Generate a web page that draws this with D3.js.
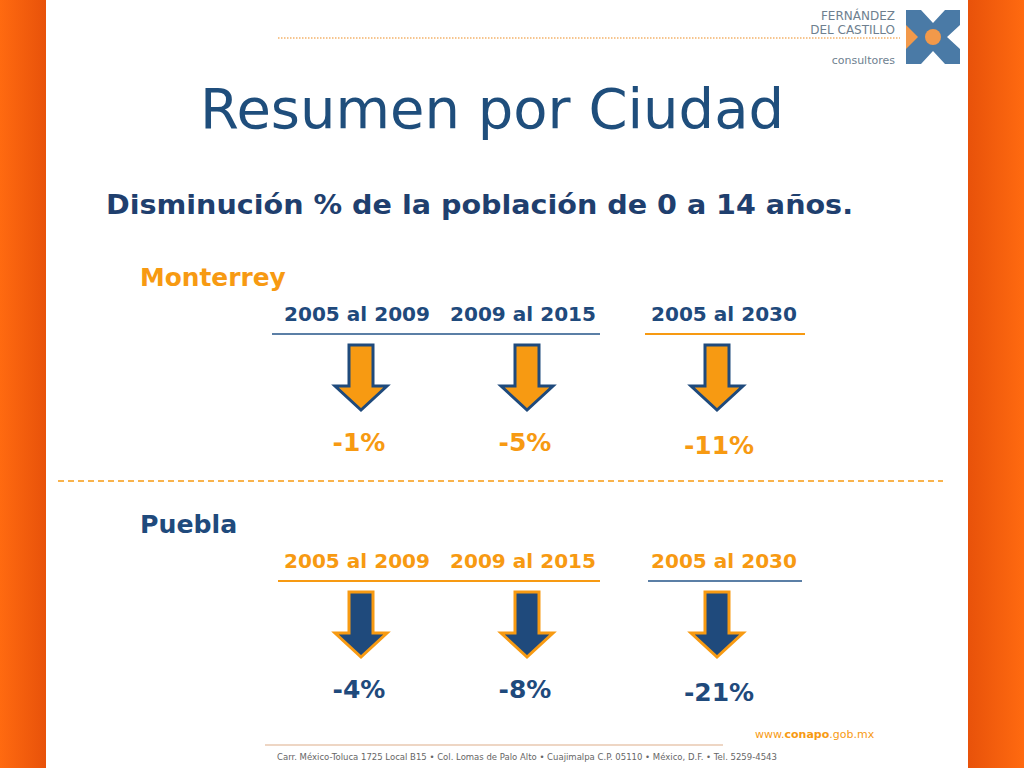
<!DOCTYPE html>
<html><head><meta charset="utf-8">
<script src="https://cdn.jsdelivr.net/npm/d3@7"></script>
<style>body{margin:0;overflow:hidden}text{font-family:"DejaVu Sans",Verdana,sans-serif}</style>
</head><body>
<script>
// data
const periods = ["2005 al 2009", "2009 al 2015", "2005 al 2030"];
const monterrey = [-1, -5, -11];
const puebla = [-4, -8, -21];

const W = 1024, H = 768;
const orange = "#f79a12", navy = "#1f4a7c", slate = "#5b7fa6";
const svg = d3.select("body").append("svg").attr("width", W).attr("height", H);

const defs = svg.append("defs");
const g1 = defs.append("linearGradient").attr("id", "lside");
g1.append("stop").attr("offset", 0).attr("stop-color", "#ff6a10");
g1.append("stop").attr("offset", 1).attr("stop-color", "#e8520a");
const g2 = defs.append("linearGradient").attr("id", "rside");
g2.append("stop").attr("offset", 0).attr("stop-color", "#e8520a");
g2.append("stop").attr("offset", 1).attr("stop-color", "#ff6a10");

svg.append("rect").attr("width", W).attr("height", H).attr("fill", "#fff");
svg.append("rect").attr("x", 0).attr("width", 46).attr("height", H).attr("fill", "url(#lside)");
svg.append("rect").attr("x", 968).attr("width", 56).attr("height", H).attr("fill", "url(#rside)");

// logo
svg.append("line").attr("x1", 278).attr("x2", 900).attr("y1", 38).attr("y2", 38)
  .attr("stroke", "#f4b36a").attr("stroke-width", 1.5).attr("stroke-dasharray", "1.5,1.5");
svg.append("text").attr("x", 895).attr("y", 20).attr("text-anchor", "end").attr("font-size", 12).attr("fill", "#6e7f8f").text("FERNÁNDEZ");
svg.append("text").attr("x", 895).attr("y", 34).attr("text-anchor", "end").attr("font-size", 12).attr("fill", "#6e7f8f").text("DEL CASTILLO");
svg.append("text").attr("x", 895).attr("y", 64).attr("text-anchor", "end").attr("font-size", 11).attr("fill", "#6e7f8f").text("consultores");
const lg = svg.append("g").attr("transform", "translate(933,37)");
lg.append("rect").attr("x", -27).attr("y", -27).attr("width", 54).attr("height", 54).attr("fill", "#4a7aa6");
lg.append("path").attr("d", "M-12,-27L12,-27L0,-14Z M-12,27L12,27L0,14Z M27,-12L27,12L14,0Z").attr("fill", "#fff");
lg.append("path").attr("d", "M-27,-12L-15,0L-27,12Z").attr("fill", "#f2994a");
lg.append("circle").attr("r", 8).attr("fill", "#f2994a");

// titles
svg.append("text").attr("x", 492).attr("y", 128).attr("text-anchor", "middle").attr("font-size", 56)
  .attr("font-family", "Open Sans, sans-serif").attr("fill", "#1f4e7c").text("Resumen por Ciudad");
svg.append("text").attr("x", 106).attr("y", 214).attr("font-size", 26).attr("font-weight", "bold")
  .attr("textLength", 747).attr("lengthAdjust", "spacingAndGlyphs")
  .attr("fill", "#1f3f6e").text("Disminución % de la población de 0 a 14 años.");

const x = d3.scaleOrdinal().domain(periods).range([357, 523, 724]);

function section(name, vals, top, nameColor, headColor, fill, border, valColor, lines) {
  svg.append("text").attr("x", 140).attr("y", top).attr("font-size", 24).attr("font-weight", "bold")
    .attr("textLength", name.length * 16.2).attr("lengthAdjust", "spacingAndGlyphs")
    .attr("fill", nameColor).text(name);
  const hy = top + 35;
  svg.selectAll(null).data(periods).join("text")
    .attr("x", d => x(d)).attr("y", hy).attr("text-anchor", "middle").attr("font-size", 19.5)
    .attr("textLength", 146).attr("lengthAdjust", "spacingAndGlyphs")
    .attr("font-weight", "bold").attr("fill", headColor).text(d => d);
  lines.forEach(l => svg.append("line").attr("x1", l[0]).attr("x2", l[1]).attr("y1", hy + 13).attr("y2", hy + 13)
    .attr("stroke", l[2]).attr("stroke-width", 2));
  const ay = hy + 24;
  svg.selectAll(null).data(vals).join("path")
    .attr("transform", (d, i) => `translate(${x(periods[i]) + (i === 2 ? -7 : 4)},${ay})`)
    .attr("d", "M-12,0L12,0L12,41L26,41L0,65L-26,41L-12,41Z")
    .attr("fill", fill).attr("stroke", border).attr("stroke-width", 3).attr("stroke-linejoin", "miter");
  svg.selectAll(null).data(vals).join("text")
    .attr("x", (d, i) => x(periods[i]) + (i === 2 ? -5 : 2)).attr("y", (d, i) => ay + 106 + (i === 2 ? 3 : 0))
    .attr("text-anchor", "middle").attr("font-size", 25).attr("font-weight", "bold").attr("fill", valColor)
    .text(d => d + "%");
}

section("Monterrey", monterrey, 286, orange, navy, orange, navy, orange,
  [[272, 600, slate], [645, 805, orange]]);

svg.append("line").attr("x1", 58).attr("x2", 943).attr("y1", 481).attr("y2", 481)
  .attr("stroke", orange).attr("stroke-width", 1.5).attr("stroke-dasharray", "6,4");

section("Puebla", puebla, 533, navy, orange, navy, orange, navy,
  [[278, 600, orange], [648, 802, slate]]);

// footer
svg.append("text").attr("x", 755).attr("y", 738).attr("font-size", 11).attr("fill", orange)
  .html('www.<tspan font-weight="bold">conapo</tspan>.gob.mx');
svg.append("line").attr("x1", 265).attr("x2", 723).attr("y1", 745).attr("y2", 745).attr("stroke", "#e8c8b0").attr("stroke-width", 1.5);
svg.append("text").attr("x", 277).attr("y", 760).attr("font-size", 8.5).attr("fill", "#666")
  .attr("font-family", "Liberation Sans, Arial, sans-serif")
  .text("Carr. México-Toluca 1725 Local B15 • Col. Lomas de Palo Alto • Cuajimalpa C.P. 05110 • México, D.F. • Tel. 5259-4543");
</script>
</body></html>
